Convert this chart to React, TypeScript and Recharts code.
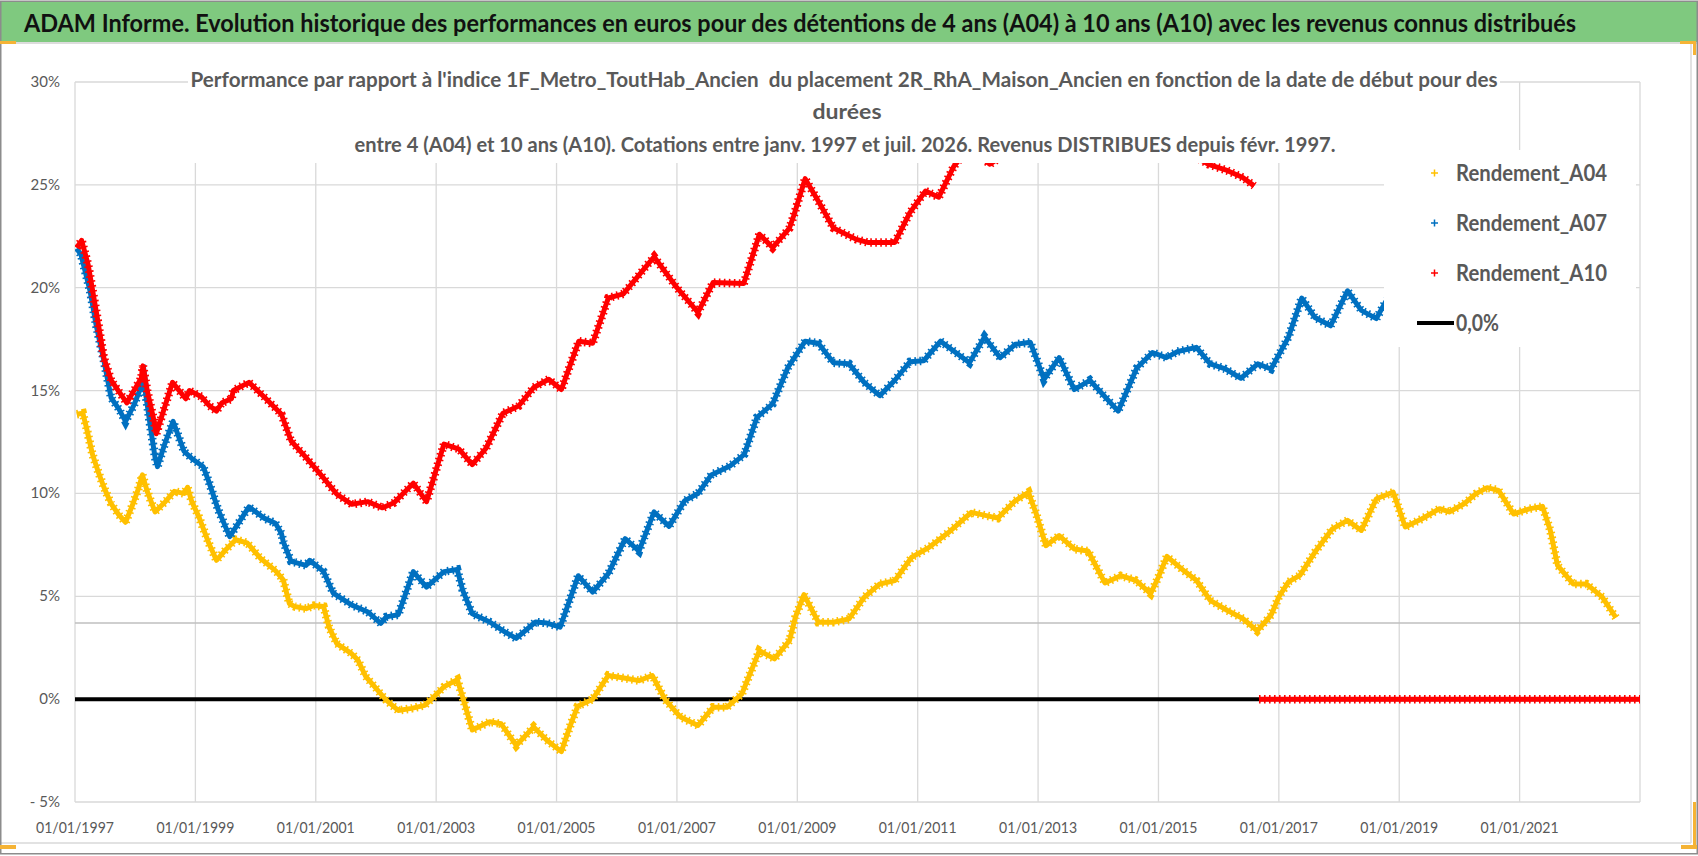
import React from "react";
import { LineChart, Line, XAxis, YAxis, CartesianGrid, ReferenceLine } from "recharts";

// start dates as decimal years, values in %
const a04: [number, number][] = [
  [1997.03, 13.85], [1997.13, 13.9], [1997.19, 13.2], [1997.29, 11.9], [1997.38, 11.1],
  [1997.48, 10.3], [1997.6, 9.5], [1997.73, 8.95], [1997.84, 8.6], [1997.95, 9.4],
  [1998.05, 10.2], [1998.12, 10.9], [1998.2, 10.1], [1998.33, 9.1], [1998.5, 9.6],
  [1998.65, 10.1], [1998.81, 10.0], [1998.87, 10.3], [1998.94, 9.6], [1999.06, 8.85],
  [1999.22, 7.6], [1999.35, 6.75], [1999.5, 7.25], [1999.67, 7.75], [1999.86, 7.6],
  [2000.08, 6.85], [2000.33, 6.25], [2000.46, 5.8], [2000.56, 4.65], [2000.65, 4.5],
  [2000.84, 4.4], [2000.97, 4.55], [2001.13, 4.5], [2001.22, 3.5], [2001.35, 2.7],
  [2001.6, 2.2], [2001.7, 1.9], [2001.83, 1.1], [2001.98, 0.6], [2002.17, -0.05],
  [2002.37, -0.55], [2002.59, -0.45], [2002.81, -0.3], [2002.94, 0.05], [2003.13, 0.6],
  [2003.35, 0.95], [2003.44, 0.1], [2003.6, -1.5], [2003.89, -1.1], [2004.08, -1.2],
  [2004.33, -2.25], [2004.62, -1.35], [2004.84, -2.0], [2005.08, -2.55], [2005.22, -1.35],
  [2005.35, -0.35], [2005.6, 0.0], [2005.86, 1.15], [2006.17, 1.0], [2006.37, 0.9],
  [2006.59, 1.15], [2006.81, -0.05], [2007.06, -0.87], [2007.35, -1.28], [2007.6, -0.4],
  [2007.83, -0.4], [2008.08, 0.26], [2008.37, 2.36], [2008.62, 1.96], [2008.87, 2.85],
  [2008.97, 4.0], [2009.11, 5.08], [2009.35, 3.74], [2009.6, 3.74], [2009.86, 3.9],
  [2010.11, 4.95], [2010.37, 5.6], [2010.62, 5.76], [2010.9, 6.9], [2011.19, 7.38],
  [2011.51, 8.1], [2011.89, 9.08], [2012.33, 8.8], [2012.62, 9.64], [2012.84, 10.05],
  [2012.97, 9.0], [2013.13, 7.46], [2013.35, 7.95], [2013.6, 7.3], [2013.83, 7.2],
  [2014.11, 5.65], [2014.37, 6.0], [2014.62, 5.78], [2014.87, 5.13], [2015.0, 5.94],
  [2015.14, 6.94], [2015.38, 6.34], [2015.63, 5.78], [2015.86, 4.8], [2016.14, 4.32],
  [2016.4, 3.92], [2016.64, 3.32], [2016.87, 4.08], [2017.0, 4.97], [2017.16, 5.7],
  [2017.35, 6.02], [2017.6, 7.15], [2017.89, 8.28], [2018.14, 8.69], [2018.37, 8.2],
  [2018.62, 9.74], [2018.9, 10.06], [2019.1, 8.37], [2019.38, 8.77], [2019.67, 9.26],
  [2019.83, 9.1], [2020.08, 9.5], [2020.27, 9.98], [2020.46, 10.28], [2020.65, 10.15],
  [2020.9, 9.0], [2021.16, 9.25], [2021.38, 9.37], [2021.51, 8.2], [2021.63, 6.5],
  [2021.89, 5.6], [2022.11, 5.6], [2022.37, 4.97], [2022.6, 3.96],
];

const a07: [number, number][] = [
  [1997.03, 21.9], [1997.1, 21.6], [1997.25, 19.85], [1997.35, 18.2], [1997.48, 16.45],
  [1997.6, 14.65], [1997.73, 14.1], [1997.84, 13.5], [1997.98, 14.3], [1998.14, 15.5],
  [1998.2, 14.3], [1998.27, 12.9], [1998.33, 11.75], [1998.37, 11.3], [1998.49, 12.4],
  [1998.63, 13.5], [1998.81, 12.05], [1998.94, 11.7], [1999.13, 11.3], [1999.22, 10.6],
  [1999.38, 9.2], [1999.57, 7.9], [1999.89, 9.35], [2000.14, 8.8], [2000.33, 8.55],
  [2000.43, 8.05], [2000.46, 7.65], [2000.59, 6.7], [2000.84, 6.5], [2000.9, 6.75],
  [2001.13, 6.2], [2001.29, 5.15], [2001.6, 4.57], [2001.86, 4.25], [2002.08, 3.68],
  [2002.17, 4.0], [2002.37, 4.1], [2002.62, 6.2], [2002.84, 5.45], [2003.13, 6.2],
  [2003.35, 6.3], [2003.44, 5.3], [2003.6, 4.15], [2003.89, 3.75], [2004.14, 3.27],
  [2004.33, 2.95], [2004.65, 3.75], [2004.84, 3.7], [2005.06, 3.5], [2005.36, 6.0],
  [2005.6, 5.2], [2005.86, 6.1], [2006.14, 7.8], [2006.37, 7.2], [2006.62, 9.1],
  [2006.87, 8.4], [2007.13, 9.65], [2007.35, 10.0], [2007.57, 10.9], [2007.89, 11.35],
  [2008.12, 11.9], [2008.33, 13.7], [2008.59, 14.35], [2008.84, 16.1], [2009.13, 17.4],
  [2009.35, 17.3], [2009.6, 16.35], [2009.86, 16.3], [2010.11, 15.4], [2010.37, 14.75],
  [2010.62, 15.5], [2010.87, 16.4], [2011.1, 16.45], [2011.38, 17.4], [2011.86, 16.35],
  [2012.11, 17.6], [2012.37, 16.6], [2012.62, 17.25], [2012.87, 17.35], [2013.1, 15.55],
  [2013.35, 16.6], [2013.6, 15.05], [2013.86, 15.5], [2014.33, 14.0], [2014.64, 16.1],
  [2014.9, 16.85], [2015.13, 16.6], [2015.32, 16.9], [2015.63, 17.1], [2015.86, 16.3],
  [2016.11, 16.05], [2016.37, 15.6], [2016.65, 16.3], [2016.87, 16.05], [2017.16, 17.6],
  [2017.38, 19.5], [2017.6, 18.55], [2017.86, 18.15], [2018.14, 19.85], [2018.37, 18.9],
  [2018.62, 18.5], [2018.78, 19.35], [2019.05, 19.9], [2019.3, 20.3], [2019.5, 20.0],
];

const a10: [number, number][] = [
  [1997.03, 21.95], [1997.11, 22.3], [1997.22, 21.1], [1997.35, 18.9], [1997.48, 16.6],
  [1997.6, 15.5], [1997.86, 14.4], [1997.98, 15.0], [1998.1, 15.6], [1998.13, 16.2],
  [1998.2, 15.0], [1998.3, 13.7], [1998.35, 12.9], [1998.49, 14.2], [1998.62, 15.4],
  [1998.84, 14.6], [1998.9, 15.0], [1999.1, 14.7], [1999.22, 14.3], [1999.35, 14.0],
  [1999.44, 14.4], [1999.6, 14.6], [1999.63, 15.0], [1999.89, 15.4], [2000.14, 14.7],
  [2000.43, 13.85], [2000.59, 12.55], [2000.84, 11.74], [2001.1, 10.85], [2001.35, 9.96],
  [2001.6, 9.47], [2001.86, 9.6], [2002.11, 9.3], [2002.3, 9.55], [2002.62, 10.5],
  [2002.84, 9.6], [2003.13, 12.4], [2003.38, 12.15], [2003.6, 11.4], [2003.83, 12.2],
  [2004.11, 13.9], [2004.37, 14.25], [2004.62, 15.15], [2004.87, 15.55], [2005.08, 15.05],
  [2005.37, 17.4], [2005.6, 17.3], [2005.86, 19.5], [2006.11, 19.7], [2006.62, 21.5],
  [2007.0, 20.0], [2007.35, 18.8], [2007.6, 20.25], [2008.11, 20.2], [2008.37, 22.6],
  [2008.59, 21.95], [2008.87, 22.9], [2008.94, 23.5], [2009.13, 25.3], [2009.35, 24.2],
  [2009.6, 22.9], [2009.98, 22.35], [2010.17, 22.2], [2010.62, 22.2], [2010.87, 23.65],
  [2011.13, 24.7], [2011.35, 24.4], [2011.6, 25.9], [2011.85, 26.8], [2012.2, 26.0],
  [2012.8, 27.2], [2013.5, 28.0], [2014.3, 27.6], [2015.0, 27.0], [2015.6, 26.4],
  [2015.83, 26.0], [2016.14, 25.7], [2016.4, 25.36], [2016.59, 24.95],
];

// A10 has no more values after mid-2016: plotted at 0
const a10Zero: [number, number][] = [[2016.67, 0], [2023.0, 0]];
const zeroLine: [number, number][] = [[1997.0, 0], [2023.0, 0]];
const refLevel = 3.7;

const xTicks = [1997, 1999, 2001, 2003, 2005, 2007, 2009, 2011, 2013, 2015, 2017, 2019, 2021];
const yTicks = [-5, 0, 5, 10, 15, 20, 25, 30];

const seriesNames = ["Rendement_A04", "Rendement_A07", "Rendement_A10", "0,0%"];
const colors = { a04: "#FFC000", a07: "#0070C0", a10: "#FF0000", zero: "#000000" };

const title =
  "ADAM Informe. Evolution historique des performances en euros pour des détentions de 4 ans (A04) à 10 ans (A10) avec les revenus connus distribués";
const subtitle = [
  "Performance par rapport à l'indice 1F_Metro_ToutHab_Ancien  du placement 2R_RhA_Maison_Ancien en fonction de la date de début pour des",
  "durées",
  "entre 4 (A04) et 10 ans (A10). Cotations entre janv. 1997 et juil. 2026. Revenus DISTRIBUES depuis févr. 1997.",
];

const FONT = "Lato, 'Open Sans', 'Liberation Sans', sans-serif";
const toData = (pts: [number, number][]) => pts.map(([t, v]) => ({ t, v }));

function XTick(props: any) {
  const { x, payload } = props;
  return (
    <text x={x} y={833} textAnchor="middle" fontFamily={FONT} fontSize={15} fill="#595959"
      textLength={78} lengthAdjust="spacingAndGlyphs">
      {`01/01/${payload.value}`}
    </text>
  );
}

function YTick(props: any) {
  const { y, payload } = props;
  const v = payload.value as number;
  const label = v < 0 ? `- ${-v}%` : `${v}%`;
  return (
    <text x={60} y={y + 5} textAnchor="end" fontFamily={FONT} fontSize={15} fill="#595959">
      {label}
    </text>
  );
}

function Overlay() {
  const legendRows = [
    { name: seriesNames[0], color: colors.a04, y: 173 },
    { name: seriesNames[1], color: colors.a07, y: 223 },
    { name: seriesNames[2], color: colors.a10, y: 273 },
  ];
  return (
    <svg width={1698} height={856} style={{ position: "absolute", left: 0, top: 0, pointerEvents: "none" }}>
      {/* title bar */}
      <rect x={1} y={2} width={1696} height={40} fill="#7FC97F" />
      <line x1={0} y1={43} x2={1698} y2={43} stroke="#D0D0D0" strokeWidth={1.5} />
      <text x={24} y={32} fontFamily={FONT} fontSize={25} fontWeight="bold" fill="#111"
        textLength={1552} lengthAdjust="spacingAndGlyphs">
        {title}
      </text>

      {/* chart title box */}
      <rect x={188} y={64} width={1312} height={99} fill="#fff" />
      <text x={844} y={87} textAnchor="middle" fontFamily={FONT} fontSize={20} fontWeight="bold" fill="#595959"
        textLength={1307} lengthAdjust="spacingAndGlyphs" style={{ whiteSpace: "pre" }}>
        {subtitle[0]}
      </text>
      <text x={847} y={119} textAnchor="middle" fontFamily={FONT} fontSize={20} fontWeight="bold" fill="#595959"
        textLength={69} lengthAdjust="spacingAndGlyphs">
        {subtitle[1]}
      </text>
      <text x={845} y={152} textAnchor="middle" fontFamily={FONT} fontSize={20} fontWeight="bold" fill="#595959"
        textLength={981} lengthAdjust="spacingAndGlyphs">
        {subtitle[2]}
      </text>

      {/* legend box */}
      <rect x={1384} y={150} width={252} height={197} fill="#fff" />
      {legendRows.map((r) => (
        <g key={r.name}>
          <path d={`M${1431},${r.y} h7 M${1434.5},${r.y - 3.5} v7`} stroke={r.color} strokeWidth={1.5} />
          <text x={1456} y={r.y + 8} fontFamily={FONT} fontSize={22} fontWeight="bold" fill="#595959"
            textLength={151} lengthAdjust="spacingAndGlyphs">
            {r.name}
          </text>
        </g>
      ))}
      <line x1={1417} y1={323} x2={1454} y2={323} stroke={colors.zero} strokeWidth={4} />
      <text x={1456} y={331} fontFamily={FONT} fontSize={22} fontWeight="bold" fill="#595959"
        textLength={43} lengthAdjust="spacingAndGlyphs">
        {seriesNames[3]}
      </text>

      {/* chart area border + window frame */}
      <line x1={0} y1={843} x2={1691} y2={843} stroke="#D9D9D9" strokeWidth={1.5} />
      <line x1={1691} y1={43} x2={1691} y2={843} stroke="#D9D9D9" strokeWidth={1.5} />
      <rect x={0.75} y={1.25} width={1696.5} height={852.5} fill="none" stroke="#8C8C8C" strokeWidth={1.5} />

      {/* selection handles */}
      <rect x={0} y={41} width={16} height={3} fill="#F5B335" />
      <rect x={1680} y={41} width={16} height={3} fill="#F5B335" />
      <rect x={1693} y={41} width={3} height={14} fill="#F5B335" />
      <rect x={0} y={845} width={16} height={4} fill="#F5B335" />
      <rect x={1693} y={802} width={3} height={46} fill="#F5B335" />
      <rect x={1681} y={845} width={16} height={4} fill="#F5B335" />
    </svg>
  );
}

// each series: a solid band plus a dashed wider pass that gives the "+" marker texture
function seriesLines(key: string, pts: [number, number][], color: string, name?: string) {
  const data = toData(pts);
  return [
    <Line key={`${key}-band`} data={data} dataKey="v" name={name} stroke={color} strokeWidth={5}
      strokeLinejoin="round" dot={false} isAnimationActive={false} />,
    <Line key={`${key}-tex`} data={data} dataKey="v" legendType="none" stroke={color} strokeWidth={8.5}
      strokeDasharray="1.6 3.4" dot={false} isAnimationActive={false} />,
  ];
}

export default function App() {
  return (
    <div style={{ position: "absolute", left: 0, top: 0, width: 1698, height: 856, background: "#fff", overflow: "hidden" }}>
      <LineChart width={1698} height={856} margin={{ top: 82, right: 58, bottom: 14, left: 15 }}>
        <CartesianGrid stroke="#D9D9D9" strokeWidth={1.3} />
        <XAxis
          type="number"
          dataKey="t"
          domain={[1997, 2023]}
          ticks={xTicks}
          axisLine={false}
          tickLine={false}
          height={40}
          tick={<XTick />}
          allowDataOverflow
        />
        <YAxis
          type="number"
          domain={[-5, 30]}
          ticks={yTicks}
          axisLine={false}
          tickLine={false}
          width={60}
          tick={<YTick />}
          allowDataOverflow
        />
        <ReferenceLine y={refLevel} stroke="#BFBFBF" strokeWidth={1.6} />
        <Line data={toData(zeroLine)} dataKey="v" name={seriesNames[3]} stroke={colors.zero} strokeWidth={4}
          dot={false} isAnimationActive={false} />
        {seriesLines("a04", a04, colors.a04, seriesNames[0])}
        {seriesLines("a07", a07, colors.a07, seriesNames[1])}
        {seriesLines("a10", a10, colors.a10, seriesNames[2])}
        {seriesLines("a10z", a10Zero, colors.a10)}
      </LineChart>
      <Overlay />
    </div>
  );
}
